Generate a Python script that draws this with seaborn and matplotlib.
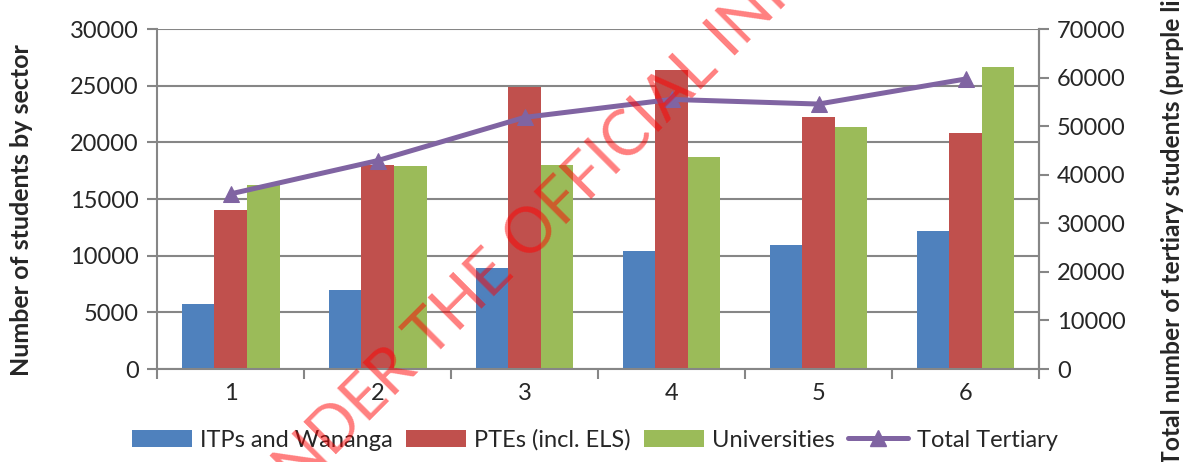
import pandas as pd
import numpy as np
import matplotlib.pyplot as plt
import seaborn as sns
from matplotlib.patches import Patch
from matplotlib.lines import Line2D

# Data
categories = ['1', '2', '3', '4', '5', '6']
itps = [5750, 7000, 8900, 10400, 10950, 12200]
ptes = [14050, 18000, 24900, 26400, 22250, 20850]
universities = [16250, 17900, 18000, 18700, 21350, 26650]
total_tertiary = [36050, 42900, 51800, 55500, 54550, 59700]
series_names = ['ITPs and Wananga', 'PTEs (incl. ELS)', 'Universities']
line_name = 'Total Tertiary'

colors = ['#4F81BD', '#C0504D', '#9BBB59']
purple = '#8064A2'
grid_grey = '#868686'

W, H = 1189, 462

df = pd.DataFrame({
    'year': categories * 3,
    'sector': np.repeat(series_names, len(categories)),
    'students': itps + ptes + universities,
})

sns.set_theme(style='white')
plt.rcParams['font.family'] = ['Lato', 'DejaVu Sans']

fig = plt.figure(figsize=(W / 100, H / 100), dpi=100)
ax = fig.add_axes([157 / W, 1 - 369 / H, (1039 - 157) / W, 340 / H])

sns.barplot(data=df, x='year', y='students', hue='sector', palette=colors,
            width=2 / 3, gap=0, saturation=1, linewidth=0, edgecolor='none',
            ax=ax, legend=False, zorder=2)

ax.set_ylim(0, 30000)
ax.set_xlim(-0.5, len(categories) - 0.5)
ax.set_yticks(np.arange(0, 30001, 5000))
ax.yaxis.grid(True, color=grid_grey, lw=1.5)
ax.set_axisbelow(True)

# category boundaries carry the tick marks, labels sit at centres
ax.set_xticks(np.arange(-0.5, len(categories), 1.0))
ax.set_xticklabels([])
ax.set_xticks(np.arange(len(categories)), minor=True)
ax.set_xticklabels(categories, minor=True)
ax.tick_params(axis='x', which='major', length=7, width=1.5, color=grid_grey, direction='out', bottom=True)
ax.tick_params(axis='x', which='minor', length=0, labelsize=17, pad=10)
ax.tick_params(axis='y', length=7, width=1.5, color=grid_grey, direction='out', left=True, labelsize=17, pad=6)
ax.set_xlabel('')
ax.set_ylabel('')

for side in ['left', 'bottom', 'right']:
    ax.spines[side].set_color(grid_grey)
    ax.spines[side].set_linewidth(1.5)
ax.spines['top'].set_visible(False)

ax2 = ax.twinx()
sns.lineplot(x=np.arange(len(categories)), y=total_tertiary, color=purple, lw=3.6,
             marker='^', markersize=12, markeredgecolor=purple, ax=ax2, zorder=3)
ax2.set_ylim(0, 70000)
ax2.set_yticks(np.arange(0, 70001, 10000))
ax2.tick_params(axis='y', length=7, width=1.5, color=grid_grey, direction='out', right=True, labelsize=17, pad=6)
for side in ['left', 'bottom', 'top']:
    ax2.spines[side].set_visible(False)
ax2.spines['right'].set_color(grid_grey)
ax2.spines['right'].set_linewidth(1.5)
ax2.grid(False)

fig.text(22 / W, 1 - 210 / H, 'Number of students by sector',
         rotation=90, ha='center', va='center', fontsize=18, fontweight='bold')
fig.text(1172 / W, -3 / H, 'Total number of tertiary students (purple line)',
         rotation=90, ha='center', va='bottom', fontsize=17.75, fontweight='bold')

handles = [Patch(facecolor=c, edgecolor='none') for c in colors]
handles.append(Line2D([], [], color=purple, lw=3.6, marker='^', markersize=12))
fig.legend(handles, series_names + [line_name], loc='center', bbox_to_anchor=(0.5, 1 - 440 / H),
           ncol=4, frameon=False, fontsize=17, handlelength=2.55, handleheight=0.7,
           columnspacing=0.55, handletextpad=0.35, borderpad=0)

# watermark: place it so the "O" of OFFICIAL sits where it does in the reference
wm_size = 45
angle = 45
renderer = fig.canvas.get_renderer()
probe = fig.text(0, 0, 'RELEASED UNDER THE ', fontsize=wm_size)
prefix_w = probe.get_window_extent(renderer).width
probe.set_text('O')
o_w = probe.get_window_extent(renderer).width
probe.remove()
d = np.array([np.cos(np.radians(angle)), np.sin(np.radians(angle))])
n = np.array([-d[1], d[0]])
cap_h = 0.72 * wm_size * 100 / 72
o_centre = np.array([530, H - 230])  # display coords (origin bottom-left)
start = o_centre - (prefix_w + o_w / 2) * d - (cap_h / 2) * n
fig.text(start[0], start[1], 'RELEASED UNDER THE OFFICIAL INFORMATION ACT', transform=None,
         rotation=angle, rotation_mode='anchor', ha='left', va='baseline',
         fontsize=wm_size, color='red', alpha=0.5, zorder=10)

fig.savefig('out.png', dpi=100)
